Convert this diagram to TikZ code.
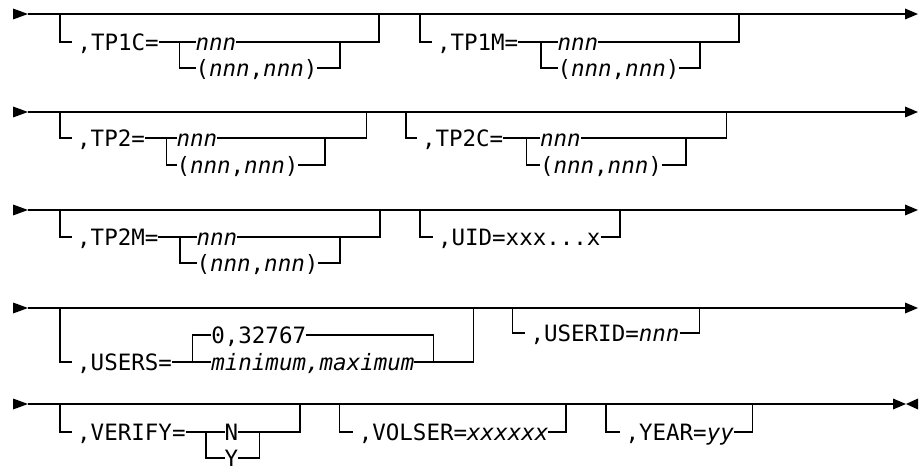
\documentclass[tikz,border=0pt]{standalone}
\usepackage{fontspec}
\setmonofont{DejaVu Sans Mono}[ItalicFont={DejaVu Sans Mono Oblique}]
\begin{document}
\begin{tikzpicture}[x=1pt,y=-1pt,
  rail/.style={line width=1.3pt},
  lbl/.style={anchor=west, inner sep=0pt, outer sep=0pt, text height=16.4pt, text depth=0pt,
              font=\fontsize{22.5}{27}\selectfont\ttfamily},
  into/.style={shorten >=5.5pt},
  tipfill/.style={fill=black}]
\useasboundingbox (0,0) rectangle (922,468);

% ---------- Row 1 ----------
\coordinate (s1) at (28,14); \coordinate (e1) at (905,14);
\fill[tipfill] (s1) -- ++(-15,-5.5) -- ++(0,11) -- cycle;
\draw[rail] (s1) -- (e1);
\fill[tipfill] (e1) -- ++(0,-5.5) -- ++(13,5.5) -- ++(-13,5.5) -- cycle;
% TP1C
\coordinate (p1a) at (60,14);
\node[lbl] (k1a) at (77.5,42) {,TP1C=};
\coordinate (b1a) at (179.5,42);
\node[lbl] (n1a) at (195.5,42) {\itshape nnn};
\node[lbl] (m1a) at (195.5,68) {(\textit{nnn},\textit{nnn})};
\coordinate (i1a) at (340,42);
\coordinate (o1a) at (379,14);
\draw[rail,into] (p1a) |- (k1a.west);
\draw[rail] (k1a.east) -- (n1a.west);
\draw[rail] (b1a) |- (m1a.west);
\draw[rail] (m1a.east) -| (i1a);
\draw[rail] (n1a.east) -| (o1a);
% TP1M
\coordinate (p1b) at (420,14);
\node[lbl] (k1b) at (437,42) {,TP1M=};
\coordinate (b1b) at (541,42);
\node[lbl] (n1b) at (557.5,42) {\itshape nnn};
\node[lbl] (m1b) at (557.5,68) {(\textit{nnn},\textit{nnn})};
\coordinate (i1b) at (700,42);
\coordinate (o1b) at (739,14);
\draw[rail,into] (p1b) |- (k1b.west);
\draw[rail] (k1b.east) -- (n1b.west);
\draw[rail] (b1b) |- (m1b.west);
\draw[rail] (m1b.east) -| (i1b);
\draw[rail] (n1b.east) -| (o1b);

% ---------- Row 2 ----------
\coordinate (s2) at (28,112); \coordinate (e2) at (905,112);
\fill[tipfill] (s2) -- ++(-15,-5.5) -- ++(0,11) -- cycle;
\draw[rail] (s2) -- (e2);
\fill[tipfill] (e2) -- ++(0,-5.5) -- ++(13,5.5) -- ++(-13,5.5) -- cycle;
% TP2
\coordinate (p2a) at (60,112);
\node[lbl] (k2a) at (77.2,138) {,TP2=};
\coordinate (b2a) at (166.7,138);
\node[lbl] (n2a) at (176.5,138) {\itshape nnn};
\node[lbl] (m2a) at (176.5,165) {(\textit{nnn},\textit{nnn})};
\coordinate (i2a) at (325,138);
\coordinate (o2a) at (366.7,112);
\draw[rail,into] (p2a) |- (k2a.west);
\draw[rail] (k2a.east) -- (n2a.west);
\draw[rail] (b2a) |- (m2a.west);
\draw[rail] (m2a.east) -| (i2a);
\draw[rail] (n2a.east) -| (o2a);
% TP2C
\coordinate (p2b) at (406,112);
\node[lbl] (k2b) at (422,138) {,TP2C=};
\coordinate (b2b) at (526.7,138);
\node[lbl] (n2b) at (540,138) {\itshape nnn};
\node[lbl] (m2b) at (540,165) {(\textit{nnn},\textit{nnn})};
\coordinate (i2b) at (686,138);
\coordinate (o2b) at (726.7,112);
\draw[rail,into] (p2b) |- (k2b.west);
\draw[rail] (k2b.east) -- (n2b.west);
\draw[rail] (b2b) |- (m2b.west);
\draw[rail] (m2b.east) -| (i2b);
\draw[rail] (n2b.east) -| (o2b);

% ---------- Row 3 ----------
\coordinate (s3) at (28,210); \coordinate (e3) at (905,210);
\fill[tipfill] (s3) -- ++(-15,-5.5) -- ++(0,11) -- cycle;
\draw[rail] (s3) -- (e3);
\fill[tipfill] (e3) -- ++(0,-5.5) -- ++(13,5.5) -- ++(-13,5.5) -- cycle;
% TP2M
\coordinate (p3a) at (60,210);
\node[lbl] (k3a) at (77.2,237) {,TP2M=};
\coordinate (b3a) at (180,237);
\node[lbl] (n3a) at (196.5,237) {\itshape nnn};
\node[lbl] (m3a) at (196.5,263) {(\textit{nnn},\textit{nnn})};
\coordinate (i3a) at (340,237);
\coordinate (o3a) at (380,210);
\draw[rail,into] (p3a) |- (k3a.west);
\draw[rail] (k3a.east) -- (n3a.west);
\draw[rail] (b3a) |- (m3a.west);
\draw[rail] (m3a.east) -| (i3a);
\draw[rail] (n3a.east) -| (o3a);
% UID
\coordinate (p3b) at (420,210);
\node[lbl] (k3b) at (438,237) {,UID=xxx...x};
\coordinate (o3b) at (620,210);
\draw[rail,into] (p3b) |- (k3b.west);
\draw[rail] (k3b.east) -| (o3b);

% ---------- Row 4 ----------
\coordinate (s4) at (28,308); \coordinate (e4) at (905,308);
\fill[tipfill] (s4) -- ++(-15,-5.5) -- ++(0,11) -- cycle;
\draw[rail] (s4) -- (e4);
\fill[tipfill] (e4) -- ++(0,-5.5) -- ++(13,5.5) -- ++(-13,5.5) -- cycle;
% USERS
\coordinate (p4a) at (60,308);
\node[lbl] (k4a) at (77.2,362) {,USERS=};
\coordinate (b4a) at (192.7,362);
\node[lbl] (d4a) at (211.3,335) {0,32767};
\node[lbl] (m4a) at (211.3,362) {\itshape minimum,maximum};
\coordinate (i4a) at (433.3,362);
\coordinate (o4a) at (473.3,308);
\draw[rail,into] (p4a) |- (k4a.west);
\draw[rail] (k4a.east) -- (m4a.west);
\draw[rail] (b4a) |- (d4a.west);
\draw[rail] (d4a.east) -| (i4a);
\draw[rail] (m4a.east) -| (o4a);
% USERID
\coordinate (p4b) at (512.7,308);
\node[lbl] (k4b) at (530.5,333) {,USERID=\textit{nnn}};
\coordinate (o4b) at (699.3,308);
\draw[rail,into] (p4b) |- (k4b.west);
\draw[rail] (k4b.east) -| (o4b);

% ---------- Row 5 ----------
\coordinate (s5) at (28,404); \coordinate (e5) at (893,404);
\fill[tipfill] (s5) -- ++(-15,-5.5) -- ++(0,11) -- cycle;
\draw[rail] (s5) -- (e5);
\fill[tipfill] (e5) -- ++(0,-5.5) -- ++(13,5.5) -- ++(-13,5.5) -- cycle;
\coordinate (f5) at (918,404);
\fill[tipfill] (f5) -- ++(0,-5.5) -- ++(-12,5.5) -- ++(12,5.5) -- cycle;
% VERIFY
\coordinate (p5a) at (60,404);
\node[lbl] (k5a) at (77.2,432) {,VERIFY=};
\coordinate (b5a) at (206,432);
\node[lbl] (n5a) at (224.5,432) {N};
\node[lbl] (y5a) at (224.5,458) {Y};
\coordinate (i5a) at (259.3,432);
\coordinate (o5a) at (300,404);
\draw[rail,into] (p5a) |- (k5a.west);
\draw[rail] (k5a.east) -- (n5a.west);
\draw[rail] (b5a) |- (y5a.west);
\draw[rail] (y5a.east) -| (i5a);
\draw[rail] (n5a.east) -| (o5a);
% VOLSER
\coordinate (p5b) at (339.3,404);
\node[lbl] (k5b) at (358.8,432) {,VOLSER=\textit{xxxxxx}};
\coordinate (o5b) at (566,404);
\draw[rail,into] (p5b) |- (k5b.west);
\draw[rail] (k5b.east) -| (o5b);
% YEAR
\coordinate (p5c) at (606,404);
\node[lbl] (k5c) at (625.5,432) {,YEAR=\textit{yy}};
\coordinate (o5c) at (752.7,404);
\draw[rail,into] (p5c) |- (k5c.west);
\draw[rail] (k5c.east) -| (o5c);
\end{tikzpicture}
\end{document}
